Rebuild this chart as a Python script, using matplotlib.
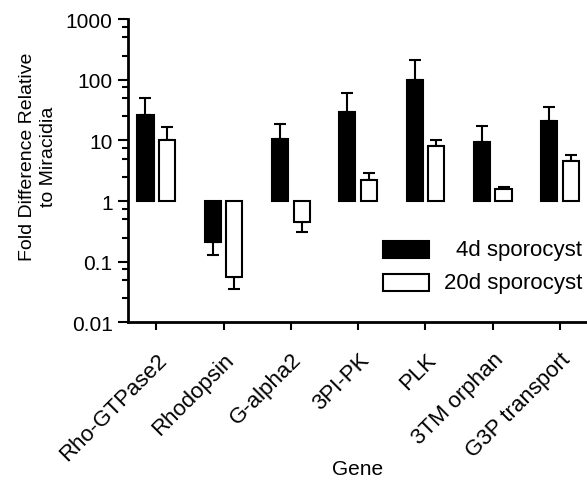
import numpy as np
import matplotlib
matplotlib.use("Agg")
import matplotlib.pyplot as plt
from matplotlib.patches import Rectangle
from matplotlib.ticker import FixedLocator, FixedFormatter
from matplotlib.transforms import ScaledTranslation

plt.rcParams['font.family'] = ['Liberation Sans', 'DejaVu Sans']

genes = ['Rho-GTPase2', 'Rhodopsin', 'G-alpha2', '3PI-PK', 'PLK', '3TM orphan', 'G3P transport']
# fold difference (bar ends) and the far end of each error bar
fold_4d = [26, 0.21, 10.5, 29, 100, 9.5, 21]
err_4d = [51, 0.128, 19, 61, 210, 17, 35]
fold_20d = [10.2, 0.056, 0.45, 2.2, 8.1, 1.6, 4.6]
err_20d = [16.6, 0.035, 0.31, 2.95, 10.2, 1.7, 5.8]
series_names = ['4d sporocyst', '20d sporocyst']

fig = plt.figure(figsize=(5.87, 4.81), dpi=100)
ax = fig.add_axes([0.218, 0.328, 0.782, 0.630])

x = np.arange(len(genes))
w = 0.24
off = 0.16


def one_sided(vals, ends):
    vals = np.array(vals)
    ends = np.array(ends)
    d = np.abs(ends - vals)
    lower = np.where(vals < 1, d, 0)
    upper = np.where(vals >= 1, d, 0)
    return [lower, upper]


for vals, ends, pos, face in [(fold_4d, err_4d, x - off, 'black'),
                              (fold_20d, err_20d, x + off, 'white')]:
    vals = np.array(vals)
    ax.bar(pos, vals - 1, bottom=1, width=w, color=face, edgecolor='black',
           linewidth=1.5, zorder=2)
    ax.errorbar(pos, vals, yerr=one_sided(vals, ends), fmt='none',
                ecolor='black', elinewidth=1.5, capsize=4, capthick=1.5, zorder=1)

ax.set_yscale('log')
ax.set_ylim(0.01, 1000)
ax.set_xlim(-0.42, 6.4)

majors = [0.01, 0.1, 1, 10, 100, 1000]
ax.yaxis.set_major_locator(FixedLocator(majors))
ax.yaxis.set_major_formatter(FixedFormatter(['0.01', '0.1', '1', '10', '100', '1000']))
minors = [m * d for d in majors[:-1] for m in (2.5, 5, 7.5)]
ax.yaxis.set_minor_locator(FixedLocator(minors))
ax.yaxis.set_minor_formatter(FixedFormatter([''] * len(minors)))

ax.set_xticks(x)
ax.set_xticklabels(genes, rotation=45, ha='right', rotation_mode='anchor')
shift = ScaledTranslation(6 / 100, 0, fig.dpi_scale_trans)
for lab in ax.get_xticklabels():
    lab.set_transform(lab.get_transform() + shift)

ax.tick_params(axis='both', which='major', direction='out', length=7, width=1.5,
               labelsize=15, pad=4)
ax.tick_params(axis='y', which='minor', direction='out', length=4, width=1.5)
ax.tick_params(axis='x', which='major', length=6, pad=13, labelsize=16)

for s in ['top', 'right']:
    ax.spines[s].set_visible(False)
for s in ['left', 'bottom']:
    ax.spines[s].set_linewidth(2)

ax.set_xlabel('Gene', fontsize=15)
ax.xaxis.set_label_coords(0.5, -0.45)
ax.set_ylabel('Fold Difference Relative\nto Miracidia', fontsize=14, linespacing=1.3)
ax.yaxis.set_label_coords(-0.155, 0.55)

# legend drawn by hand so the labels can be right aligned
for i, (name, face) in enumerate(zip(series_names, ['black', 'white'])):
    yy = 0.212 - i * 0.108
    ax.add_patch(Rectangle((0.556, yy), 0.10, 0.055, transform=ax.transAxes,
                           facecolor=face, edgecolor='black', linewidth=1.5,
                           clip_on=False))
    ax.text(0.99, yy + 0.027, name, transform=ax.transAxes, ha='right',
            va='center', fontsize=16)

fig.savefig('out.png', dpi=100)
